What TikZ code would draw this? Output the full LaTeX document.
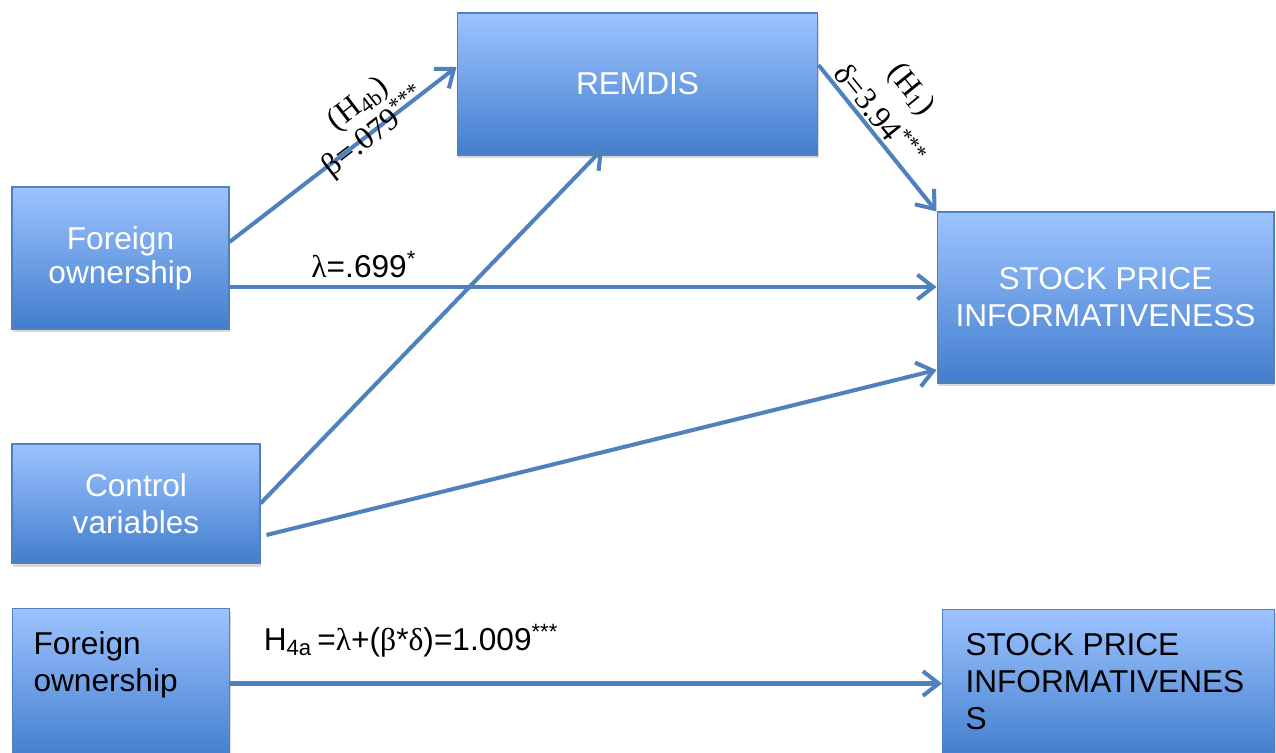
\documentclass[tikz,border=0pt]{standalone}
\usepackage{fontspec}
\setmainfont{Liberation Sans}
\newfontfamily\timesf{Liberation Serif}
\usetikzlibrary{arrows.meta,shadows}
\definecolor{boxtop}{RGB}{157,195,255}
\definecolor{boxbot}{RGB}{66,126,205}
\definecolor{boxline}{RGB}{79,129,189}
\definecolor{arrowblue}{RGB}{79,129,189}

\begin{document}
\begin{tikzpicture}[x=0.02cm, y=-0.02cm,
    box/.style={draw=boxline, line width=0.6pt, top color=boxtop, bottom color=boxbot,
        drop shadow={shadow xshift=0.8pt, shadow yshift=-2pt, opacity=0.3},
        font=\fontsize{18}{21}\selectfont, inner sep=0pt},
    mainbox/.style={box, text=white, align=center},
    arr/.style={draw=arrowblue, line width=2.3pt, -{Straight Barb[length=9pt,width=14pt]}},
    lab/.style={font=\fontsize{18}{21}\selectfont, inner sep=1pt}]
    \useasboundingbox (0,0) rectangle (1276,753);

    % model
    \node[mainbox, minimum width=7.22cm, minimum height=2.84cm] (remdis) at (637.5,84) {REMDIS};
    \node[mainbox, minimum width=4.34cm, minimum height=2.84cm,
        font=\fontsize{18}{19.5}\selectfont] (fo) at (120.5,258) {Foreign\\ownership};
    \node[mainbox, minimum width=4.96cm, minimum height=2.38cm] (ctrl) at (136,503.5) {Control\\variables};
    \node[mainbox, minimum width=6.74cm, minimum height=3.42cm] (spi) at (1105.5,297.5) {STOCK PRICE\\INFORMATIVENESS};

    \draw[arr] ([yshift=0.32cm]fo.east) -- ([yshift=0.34cm]remdis.west)
        node[lab, sloped, pos=0.65, yshift=17pt] {\timesf (H\textsubscript{4b})}
        node[lab, sloped, pos=0.635, yshift=-1pt] {\timesf β=.079\textsuperscript{***}};
    \draw[arr] ([yshift=0.38cm]remdis.east) -- (spi.north west)
        node[lab, sloped, pos=0.41, yshift=32pt] {\timesf (H\textsubscript{1})}
        node[lab, sloped, pos=0.41, yshift=10pt] {\timesf δ=3.94\textsuperscript{***}};
    \draw[arr] ([yshift=-0.58cm]fo.east) coordinate (fo-out) -- (fo-out -| spi.west)
        node[lab, pos=0.19, above=3pt] {{\timesf λ}=.699\textsuperscript{*}};
    \draw[arr] (ctrl.east) -- ([xshift=-0.69cm,yshift=0.14cm]remdis.south);
    \draw[arr] ([xshift=0.12cm,yshift=-0.63cm]ctrl.east) -- ([yshift=-1.45cm]spi.west);

    % indirect effect
    \node[box, anchor=north west, inner xsep=0.42cm, inner ysep=0.47cm] (fo2) at (12,608)
        {\parbox[c][2.06cm][t]{3.5cm}{Foreign\\ownership}};
    \node[box, anchor=north west, inner xsep=0.46cm, inner ysep=0.48cm] (spi2) at (942,609)
        {\parbox[c][2.0cm][t]{5.72cm}{\raggedright STOCK PRICE\\INFORMATIVENES\\S}};
    \draw[arr] (fo2.east) -- (spi2.west)
        node[lab, at start, anchor=base west, xshift=0.6cm, yshift=0.66cm]
        {H\textsubscript{4a}\,={\timesf λ}+({\timesf β}*{\timesf δ})=1.009\textsuperscript{***}};
\end{tikzpicture}
\end{document}
